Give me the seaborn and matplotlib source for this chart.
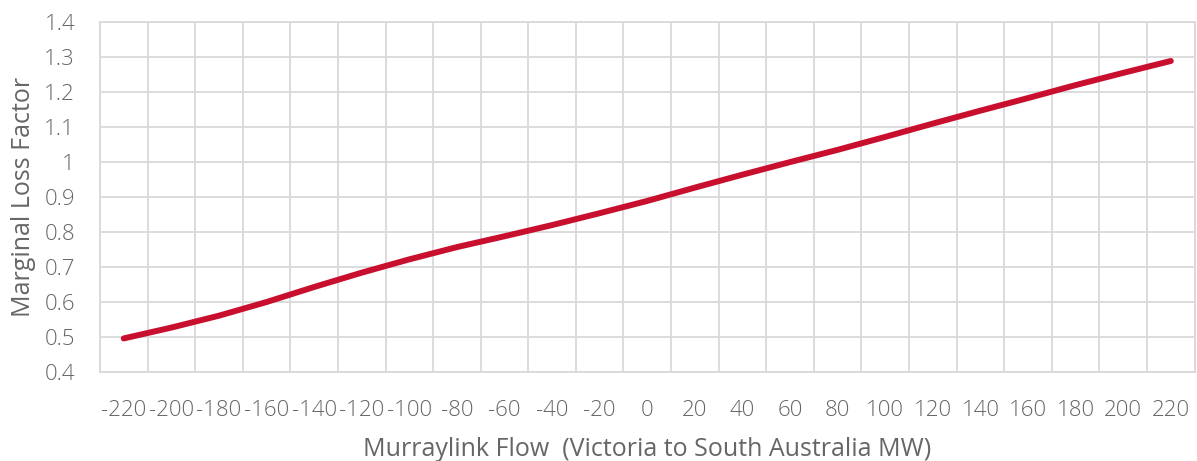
import numpy as np
import pandas as pd
import matplotlib
matplotlib.use("Agg")
import matplotlib.pyplot as plt
import seaborn as sns

# Murraylink flow (MW) and marginal loss factor
flow = [-220, -200, -180, -160, -140, -120, -100, -80, -60, -40, -20, 0,
        20, 40, 60, 80, 100, 120, 140, 160, 180, 200, 220]
mlf = [0.496, 0.527, 0.561, 0.600, 0.643, 0.684, 0.722, 0.757, 0.788, 0.820,
       0.854, 0.889, 0.927, 0.964, 1.000, 1.035, 1.072, 1.110, 1.147, 1.183,
       1.220, 1.255, 1.289]

df = pd.DataFrame({"flow": [str(f) for f in flow], "mlf": mlf})

sns.set_style("white")
plt.rcParams['font.family'] = ['Open Sans', 'DejaVu Sans']
plt.rcParams['font.weight'] = 'light'

grid_col = "#d9d9d9"
text_col = "#666666"

fig, ax = plt.subplots(figsize=(11.97, 4.61), dpi=100)
fig.subplots_adjust(left=0.0835, right=0.998, top=0.952, bottom=0.193)

sns.lineplot(data=df, x="flow", y="mlf", ax=ax, color="#c8102e",
             linewidth=4.3, solid_capstyle="round", sort=False)

n = len(flow)
ax.set_xlim(-0.5, n - 0.5)
ax.set_ylim(0.4, 1.4)
ax.set_yticks(np.arange(0.4, 1.41, 0.1))
ax.set_yticklabels(["0.4", "0.5", "0.6", "0.7", "0.8", "0.9", "1", "1.1",
                    "1.2", "1.3", "1.4"])
ax.set_xticks(range(n))
ax.set_xticklabels([str(f) for f in flow])
ax.set_xticks(np.arange(-0.5, n, 1), minor=True)

ax.grid(False)
ax.yaxis.grid(True, color=grid_col, linewidth=1.3)
ax.xaxis.grid(True, which="minor", color=grid_col, linewidth=1.3)
ax.set_axisbelow(True)
for s in ax.spines.values():
    s.set_color(grid_col)
    s.set_linewidth(1.3)

ax.tick_params(axis="both", which="both", length=0, colors=text_col,
               labelsize=16)
ax.tick_params(axis="x", pad=20)
ax.tick_params(axis="y", pad=18)

ax.set_xlabel("Murraylink Flow  (Victoria to South Australia MW)",
              fontsize=18, color=text_col, labelpad=12)
ax.set_ylabel("Marginal Loss Factor", fontsize=18, color=text_col,
              labelpad=6)

plt.savefig("out.png", dpi=100)
